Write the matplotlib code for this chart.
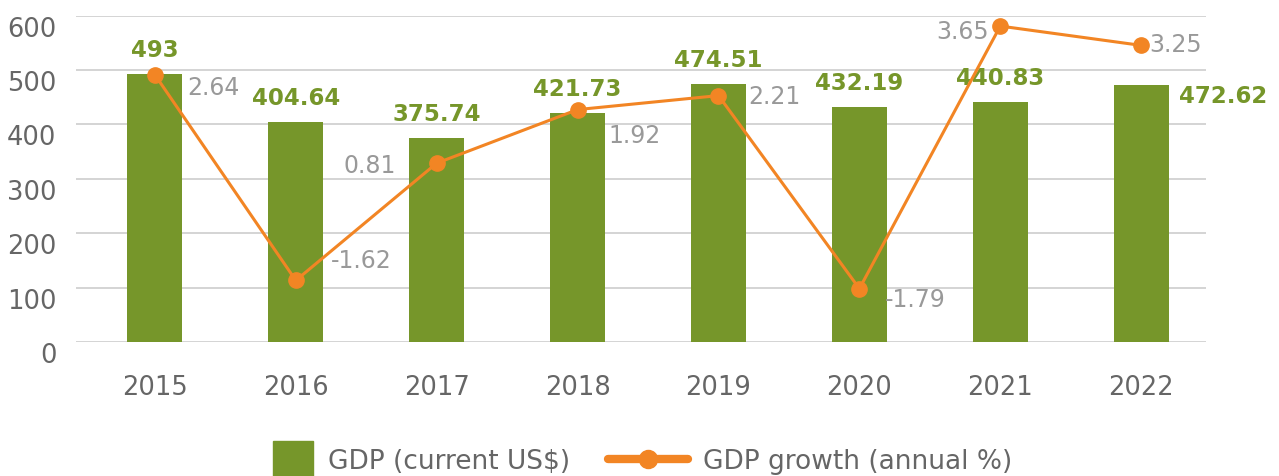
import matplotlib
matplotlib.use('Agg')
import matplotlib.pyplot as plt
from matplotlib.patches import Rectangle
from matplotlib.lines import Line2D
from matplotlib.legend_handler import HandlerPatch

# ---- data ----
years = ['2015', '2016', '2017', '2018', '2019', '2020', '2021', '2022']
gdp = [493, 404.64, 375.74, 421.73, 474.51, 432.19, 440.83, 472.62]
growth = [2.64, -1.62, 0.81, 1.92, 2.21, -1.79, 3.65, 3.25]
yticks = [0, 100, 200, 300, 400, 500, 600]
series_names = ['GDP (current US$)', 'GDP growth (annual %)']

# ---- style ----
GREEN = '#76962a'
ORANGE = '#f28524'
TICK_C = '#666666'
LBL_C = '#999999'
GRID_C = '#c9c9c9'
# growth label offsets (pixels) and alignment
g_offsets = [(32, -12, 'left'), (35, 20, 'left'), (-41, -2, 'right'), (31, -25, 'left'),
             (30, 0, 'left'), (25, -10, 'left'), (-11, -5, 'right'), (8, 1, 'left')]

plt.rcParams['font.family'] = ['DejaVu Sans']

W, H = 1279, 477
fig = plt.figure(figsize=(W / 100, H / 100), dpi=100)
ax = fig.add_axes([76 / W, 1 - 343 / H, (1206 - 76) / W, (343 - 16.7) / H])

x = list(range(len(years)))
bw = 0.39
ax.bar(x, gdp, width=bw, color=GREEN, zorder=2)
ax.set_xlim(-0.56, 7.46)
ax.set_ylim(0, 600)
ax.set_yticks(yticks)
ax.set_xticks(x)
ax.set_xticklabels(years)
ax.grid(axis='y', color=GRID_C, lw=1.1, zorder=0)
ax.set_axisbelow(True)
for s in ax.spines.values():
    s.set_visible(False)
ax.tick_params(length=0, labelsize=18.5, labelcolor=TICK_C)
ax.tick_params(axis='x', pad=23)
ax.tick_params(axis='y', pad=14)
for lbl in ax.get_yticklabels():
    lbl.set_va('top')

# bar value labels
for i, (xi, v) in enumerate(zip(x, gdp)):
    txt = f'{v:g}'
    if i == len(x) - 1:
        ax.annotate(txt, (xi + bw / 2, v), xytext=(10, -11), textcoords='offset pixels',
                    ha='left', va='center', color=GREEN, fontsize=16.5, fontweight='bold')
    else:
        ax.annotate(txt, (xi, v), xytext=(0, 13), textcoords='offset pixels',
                    ha='center', va='bottom', color=GREEN, fontsize=16.5, fontweight='bold')

# growth line on secondary axis
ax2 = ax.twinx()
ax2.set_ylim(-2.895, 3.865)
ax2.axis('off')
ax2.plot(x, growth, color=ORANGE, lw=2.2, marker='o', ms=11, zorder=3)
for xi, g, (dx, dy, ha) in zip(x, growth, g_offsets):
    ax2.annotate(f'{g:g}', (xi, g), xytext=(dx, dy), textcoords='offset pixels',
                 ha=ha, va='center', color=LBL_C, fontsize=17)

# legend
def rect_patch(legend, orig_handle, xdescent, ydescent, width, height, fontsize):
    w, h = 28.8, 25.0
    return Rectangle((-xdescent + width - w, -ydescent + height / 2 - h / 2), w, h)

h1 = Rectangle((0, 0), 1, 1, color=GREEN)
h2 = Line2D([], [], color=ORANGE, lw=6, marker='o', ms=13, solid_capstyle='round')
fig.legend([h1, h2], series_names, loc='center', bbox_to_anchor=(623 / W, 1 - 462 / H),
           ncol=2, frameon=False, fontsize=19, handlelength=3.03, handletextpad=0.57,
           columnspacing=1.44, labelcolor=TICK_C, borderpad=0,
           handler_map={Rectangle: HandlerPatch(patch_func=rect_patch)})

fig.savefig('out.png', dpi=100)
